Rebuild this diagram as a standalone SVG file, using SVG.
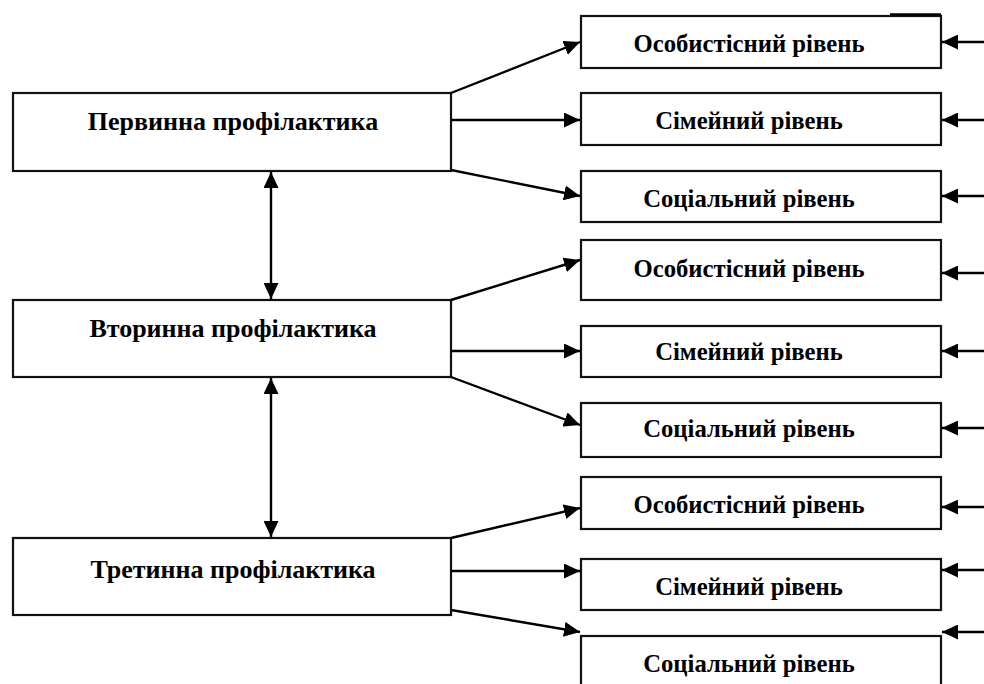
<svg xmlns="http://www.w3.org/2000/svg" width="984" height="684" viewBox="0 0 984 684">
<defs>
<marker id="ah" markerUnits="userSpaceOnUse" markerWidth="17" markerHeight="15" refX="16" refY="7.5" orient="auto-start-reverse">
<path d="M0,0 L16,7.5 L0,15 z" fill="#000"/>
</marker>
<style>
.box{fill:#fff;stroke:#111;stroke-width:2.2}
.t{font-family:"Liberation Serif","Times New Roman",serif;font-weight:bold;font-size:24.7px;fill:#000;text-anchor:middle}
.tl{font-size:26px}
.c{stroke:#000;stroke-width:2.4;fill:none}
</style>
</defs>
<rect width="984" height="684" fill="#fff"/>
<g id="n-primary"><rect class="box" x="13" y="93" width="438" height="78"/><text class="t tl" x="233" y="130">Первинна профілактика</text></g>
<g id="n-secondary"><rect class="box" x="13" y="300" width="438" height="77"/><text class="t tl" x="233" y="337">Вторинна профілактика</text></g>
<g id="n-tertiary"><rect class="box" x="13" y="538" width="438" height="77"/><text class="t tl" x="233" y="578">Третинна профілактика</text></g>

<g id="n-r1"><rect class="box" x="581" y="16" width="360" height="52"/><text class="t" x="749" y="52">Особистісний рівень</text></g>
<g id="n-r2"><rect class="box" x="581" y="93" width="360" height="52"/><text class="t" x="749" y="129">Сімейний рівень</text></g>
<g id="n-r3"><rect class="box" x="581" y="171" width="360" height="51"/><text class="t" x="749" y="207">Соціальний рівень</text></g>
<g id="n-r4"><rect class="box" x="581" y="240" width="360" height="60"/><text class="t" x="749" y="277">Особистісний рівень</text></g>
<g id="n-r5"><rect class="box" x="581" y="326" width="360" height="51"/><text class="t" x="749" y="360">Сімейний рівень</text></g>
<g id="n-r6"><rect class="box" x="581" y="403" width="360" height="54"/><text class="t" x="749" y="437">Соціальний рівень</text></g>
<g id="n-r7"><rect class="box" x="581" y="477" width="360" height="52"/><text class="t" x="749" y="513">Особистісний рівень</text></g>
<g id="n-r8"><rect class="box" x="581" y="559" width="360" height="51"/><text class="t" x="749" y="595">Сімейний рівень</text></g>
<g id="n-r9"><rect class="box" x="581" y="636" width="360" height="70"/><text class="t" x="749" y="672">Соціальний рівень</text></g>

<g id="connectors" class="c">
<line x1="890" y1="14.5" x2="941" y2="14.5"/>
<line x1="451" y1="93" x2="580" y2="42" marker-end="url(#ah)"/>
<line x1="451" y1="120" x2="580" y2="120" marker-end="url(#ah)"/>
<line x1="451" y1="170" x2="580" y2="196" marker-end="url(#ah)"/>
<line x1="451" y1="300" x2="580" y2="260" marker-end="url(#ah)"/>
<line x1="451" y1="351" x2="580" y2="351" marker-end="url(#ah)"/>
<line x1="451" y1="377" x2="580" y2="425" marker-end="url(#ah)"/>
<line x1="451" y1="538" x2="580" y2="508" marker-end="url(#ah)"/>
<line x1="451" y1="571" x2="580" y2="571" marker-end="url(#ah)"/>
<line x1="451" y1="610" x2="580" y2="632" marker-end="url(#ah)"/>
<line x1="271" y1="172" x2="271" y2="299" marker-start="url(#ah)" marker-end="url(#ah)"/>
<line x1="271" y1="378" x2="271" y2="537" marker-start="url(#ah)" marker-end="url(#ah)"/>
<line x1="990" y1="42" x2="942" y2="42" marker-end="url(#ah)"/>
<line x1="990" y1="120" x2="942" y2="120" marker-end="url(#ah)"/>
<line x1="990" y1="196" x2="942" y2="196" marker-end="url(#ah)"/>
<line x1="990" y1="273" x2="942" y2="273" marker-end="url(#ah)"/>
<line x1="990" y1="351" x2="942" y2="351" marker-end="url(#ah)"/>
<line x1="990" y1="428" x2="942" y2="428" marker-end="url(#ah)"/>
<line x1="990" y1="507" x2="942" y2="507" marker-end="url(#ah)"/>
<line x1="990" y1="570" x2="942" y2="570" marker-end="url(#ah)"/>
<line x1="990" y1="632" x2="942" y2="632" marker-end="url(#ah)"/>
</g>
</svg>
